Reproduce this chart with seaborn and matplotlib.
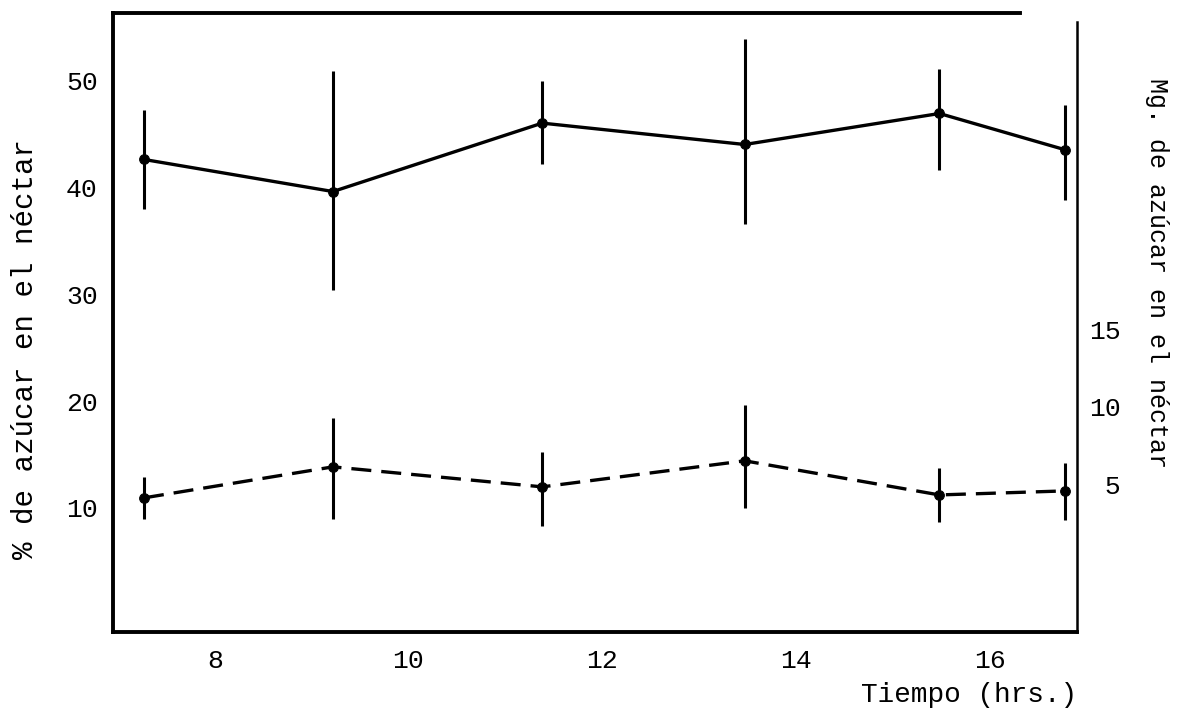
import numpy as np
import pandas as pd
import seaborn as sns
import matplotlib.pyplot as plt

# Data
hours = [7.27, 9.22, 11.38, 13.47, 15.48, 16.78]

pct_mean = [42.6, 39.6, 46.0, 44.0, 46.9, 43.5]
pct_low = [38.0, 30.4, 42.2, 36.6, 41.6, 38.8]
pct_high = [47.2, 50.9, 49.9, 53.9, 51.1, 47.7]

mg_mean = [4.13, 6.13, 4.84, 6.52, 4.32, 4.58]
mg_low = [2.77, 2.77, 2.32, 3.48, 2.58, 2.71]
mg_high = [5.48, 9.29, 7.10, 10.13, 6.06, 6.39]

x_ticks = [8, 10, 12, 14, 16]
left_ticks = [10, 20, 30, 40, 50]
right_ticks = [5, 10, 15]

pct_df = pd.DataFrame({'hora': hours, 'valor': pct_mean})
mg_df = pd.DataFrame({'hora': hours, 'valor': mg_mean})

sns.set_style('white')
plt.rcParams['font.family'] = ['Liberation Mono', 'DejaVu Sans Mono']
plt.rcParams['text.color'] = 'black'
plt.rcParams['axes.labelcolor'] = 'black'
plt.rcParams['xtick.color'] = 'black'
plt.rcParams['ytick.color'] = 'black'

fig = plt.figure(figsize=(11.82, 7.25), dpi=100)
ax = fig.add_axes([113 / 1182, 1 - 632 / 725, 964 / 1182, 619 / 725])
ax2 = ax.twinx()

# % sugar (solid line, left axis)
sns.lineplot(data=pct_df, x='hora', y='valor', ax=ax, color='black', lw=2.4,
             marker='o', markersize=7, markeredgecolor='black')
pct_err = [np.subtract(pct_mean, pct_low), np.subtract(pct_high, pct_mean)]
ax.errorbar(hours, pct_mean, yerr=pct_err, fmt='none', ecolor='black',
            elinewidth=2.2, capsize=0)

# mg sugar (dashed line, right axis)
sns.lineplot(data=mg_df, x='hora', y='valor', ax=ax2, color='black', lw=2.4,
             marker='o', markersize=7, markeredgecolor='black', dashes=False)
ax2.lines[-1].set_dashes((6, 3))
mg_err = [np.subtract(mg_mean, mg_low), np.subtract(mg_high, mg_mean)]
ax2.errorbar(hours, mg_mean, yerr=mg_err, fmt='none', ecolor='black',
             elinewidth=2.2, capsize=0)

ax.set_xlim(6.95, 16.90)
ax.set_ylim(-1.6, 56.3)
ax2.set_ylim(-4.52, 35.4)

ax.set_xticks(x_ticks)
ax.set_xticklabels([str(t) for t in x_ticks])
ax.set_yticks(left_ticks)
ax.set_yticklabels([str(t) for t in left_ticks])
ax2.set_yticks(right_ticks)
ax2.set_yticklabels(['{:>2}'.format(t) for t in right_ticks])

ax.tick_params(axis='x', length=0, pad=12, labelsize=19, labelcolor='black')
ax.tick_params(axis='y', length=0, pad=11, labelsize=19, labelcolor='black')
ax2.tick_params(axis='y', length=0, pad=9, labelsize=19, labelcolor='black')

for side in ['left', 'bottom', 'top']:
    ax.spines[side].set_linewidth(2.8)
    ax.spines[side].set_color('black')
ax.spines['right'].set_visible(False)
ax.spines['top'].set_bounds(6.95, 16.31)
for side in ['left', 'bottom', 'top']:
    ax2.spines[side].set_visible(False)
ax2.spines['right'].set_visible(True)
ax2.spines['right'].set_linewidth(1.8)
ax2.spines['right'].set_color('black')
ax2.spines['right'].set_bounds(-4.52, 34.8)

ax.set_xlabel('Tiempo (hrs.)', fontsize=20, ha='right', va='center', color='black')
ax.xaxis.set_label_coords(1.0, -0.102)
ax.set_ylabel('% de azúcar en el néctar', fontsize=21, rotation=90, va='center',
              color='black')
ax.yaxis.set_label_coords(-0.0913, 0.457)
ax2.set_ylabel('Mg. de azúcar en el néctar', fontsize=18, rotation=270, va='center',
               color='black')
ax2.yaxis.set_label_coords(1.083, 0.58)

plt.savefig('out.png', dpi=100)
